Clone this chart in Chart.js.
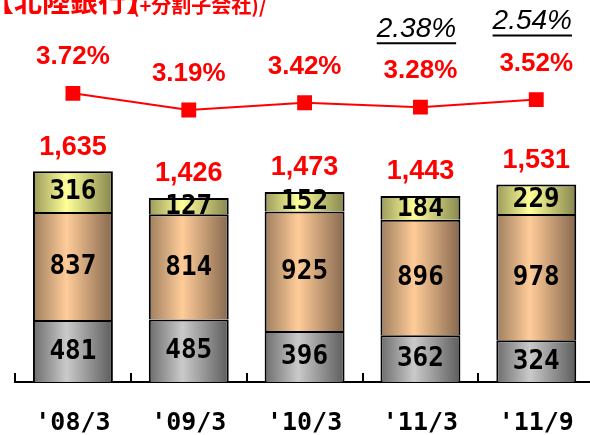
<!DOCTYPE html>
<html>
<head>
<meta charset="utf-8">
<script src="https://cdn.jsdelivr.net/npm/chart.js@4/dist/chart.umd.min.js"></script>
<style>
    html, body { margin: 0; padding: 0; overflow: hidden; background: #fff; }
    /* the source is cropped on the right, so the chart runs a little past the window */
    #wrap { position: relative; width: 600px; height: 435px; }
</style>
</head>
<body>
<div id="wrap"><canvas id="dataChart"></canvas></div>
<script>
// Chart data
const periods = ["'08/3", "'09/3", "'10/3", "'11/3", "'11/9"];
const grayValues = [481, 485, 396, 362, 324];
const peachValues = [837, 814, 925, 896, 978];
const yellowValues = [316, 127, 152, 184, 229];
const totals = ['1,635', '1,426', '1,473', '1,443', '1,531'];
const rates = [3.72, 3.19, 3.42, 3.28, 3.52];
const altRates = [null, null, null, 2.38, 2.54];
const titleMain = '【北陸銀行】';
const titleSub = '(+分割子会社)/';

const BAR_PCT = 0.69;

// Horizontal gradient per bar, dark edges and light middle
function barGradient(stops) {
    return (ctx) => {
        const chart = ctx.chart;
        const xs = chart.scales.x;
        if (!xs || ctx.dataIndex === undefined) return stops[1];
        const cx = xs.getPixelForValue(ctx.dataIndex);
        const half = (xs.getPixelForValue(1) - xs.getPixelForValue(0)) * BAR_PCT / 2;
        if (!isFinite(cx) || !isFinite(half) || half <= 0) return stops[1];
        const g = chart.ctx.createLinearGradient(cx - half, 0, cx + half, 0);
        g.addColorStop(0, stops[0]);
        g.addColorStop(0.42, stops[1]);
        g.addColorStop(1, stops[2]);
        return g;
    };
}

// Title, labels and inner ticks
const labelPlugin = {
    id: 'labels',
    afterDatasetsDraw(chart) {
        const ctx = chart.ctx;
        ctx.save();
        ctx.textAlign = 'center';
        ctx.textBaseline = 'middle';

        // numbers inside segments
        ctx.fillStyle = '#000';
        ctx.font = 'bold 26px "DejaVu Sans Mono"';
        [0, 1, 2].forEach(d => {
            const meta = chart.getDatasetMeta(d);
            meta.data.forEach((el, i) => {
                ctx.fillText(String(chart.data.datasets[d].data[i]), el.x, (el.y + el.base) / 2 + 1);
            });
        });

        // totals above bars
        ctx.fillStyle = '#ff0000';
        ctx.font = 'bold 27px "Liberation Sans"';
        chart.getDatasetMeta(2).data.forEach((el, i) => {
            ctx.fillText(totals[i], el.x, el.y - 24);
        });

        // rates above markers
        const lineMeta = chart.getDatasetMeta(3);
        ctx.font = 'bold 26px "Liberation Sans"';
        lineMeta.data.forEach((el, i) => {
            ctx.fillText(rates[i].toFixed(2) + '%', el.x, el.y - 36);
        });

        // underlined italic rates
        ctx.fillStyle = '#000';
        ctx.strokeStyle = '#000';
        ctx.lineWidth = 2;
        ctx.font = 'italic 28px "Liberation Sans"';
        lineMeta.data.forEach((el, i) => {
            if (altRates[i] === null) return;
            const txt = altRates[i].toFixed(2) + '%';
            const x = el.x - 4;
            const y = el.y - 36 - 42;
            ctx.fillText(txt, x, y);
            const w = ctx.measureText(txt).width;
            ctx.beginPath();
            ctx.moveTo(x - w / 2, y + 14);
            ctx.lineTo(x + w / 2, y + 14);
            ctx.stroke();
        });
        ctx.restore();
    },
    afterDraw(chart) {
        const ctx = chart.ctx;
        const xs = chart.scales.x;
        const step = xs.getPixelForValue(1) - xs.getPixelForValue(0);
        ctx.save();
        // short ticks pointing up between categories
        ctx.strokeStyle = '#000';
        ctx.lineWidth = 2;
        for (let i = 0; i <= periods.length; i++) {
            const x = Math.round(xs.getPixelForValue(0) - step / 2 + i * step);
            ctx.beginPath();
            ctx.moveTo(x, xs.top);
            ctx.lineTo(x, xs.top - 9);
            ctx.stroke();
        }
        // title, cut off at the top like the source
        ctx.fillStyle = '#ff0000';
        ctx.textAlign = 'left';
        ctx.textBaseline = 'alphabetic';
        ctx.font = 'bold 28px "Noto Sans CJK JP"';
        ctx.fillText(titleMain, -14, 12);
        ctx.font = 'bold 20px "Noto Sans CJK JP"';
        ctx.fillText(titleSub, 132, 13);
        ctx.restore();
    }
};

new Chart(document.getElementById('dataChart'), {
    type: 'bar',
    data: {
        labels: periods,
        datasets: [
            {
                data: grayValues,
                backgroundColor: barGradient(['#6c6c6c', '#cacaca', '#5c5c5c']),
                borderColor: '#000',
                borderWidth: 2,
                order: 2
            },
            {
                data: peachValues,
                backgroundColor: barGradient(['#9e7e5e', '#ffcc99', '#86684e']),
                borderColor: '#000',
                borderWidth: 2,
                order: 2
            },
            {
                data: yellowValues,
                backgroundColor: barGradient(['#9a9a5a', '#ffff99', '#86864e']),
                borderColor: '#000',
                borderWidth: 2,
                order: 2
            },
            {
                type: 'line',
                data: rates,
                yAxisID: 'y2',
                borderColor: '#ff0000',
                borderWidth: 2,
                pointStyle: 'rect',
                pointRadius: 10.5,
                pointBackgroundColor: '#ff0000',
                pointBorderColor: '#ff0000',
                pointBorderWidth: 0,
                order: 1
            }
        ]
    },
    options: {
        responsive: true,
        maintainAspectRatio: false,
        animation: false,
        layout: { autoPadding: false, padding: { left: 15, right: 1, top: 0, bottom: 0 } },
        datasets: {
            bar: { categoryPercentage: 1, barPercentage: BAR_PCT }
        },
        plugins: {
            legend: { display: false },
            tooltip: { enabled: false },
            title: { display: false }
        },
        scales: {
            x: {
                stacked: true,
                grid: { display: false, drawTicks: false },
                border: { display: true, color: '#000', width: 2 },
                ticks: {
                    color: '#000',
                    padding: 26,
                    font: { family: 'DejaVu Sans Mono', size: 25, weight: 'bold' }
                },
                afterFit: (s) => { s.height = 53; }
            },
            y: {
                stacked: true,
                display: false,
                min: 0,
                max: 2960
            },
            y2: {
                display: false,
                min: -5.445,
                max: 6.682
            }
        }
    },
    plugins: [labelPlugin]
});
</script>
</body>
</html>
